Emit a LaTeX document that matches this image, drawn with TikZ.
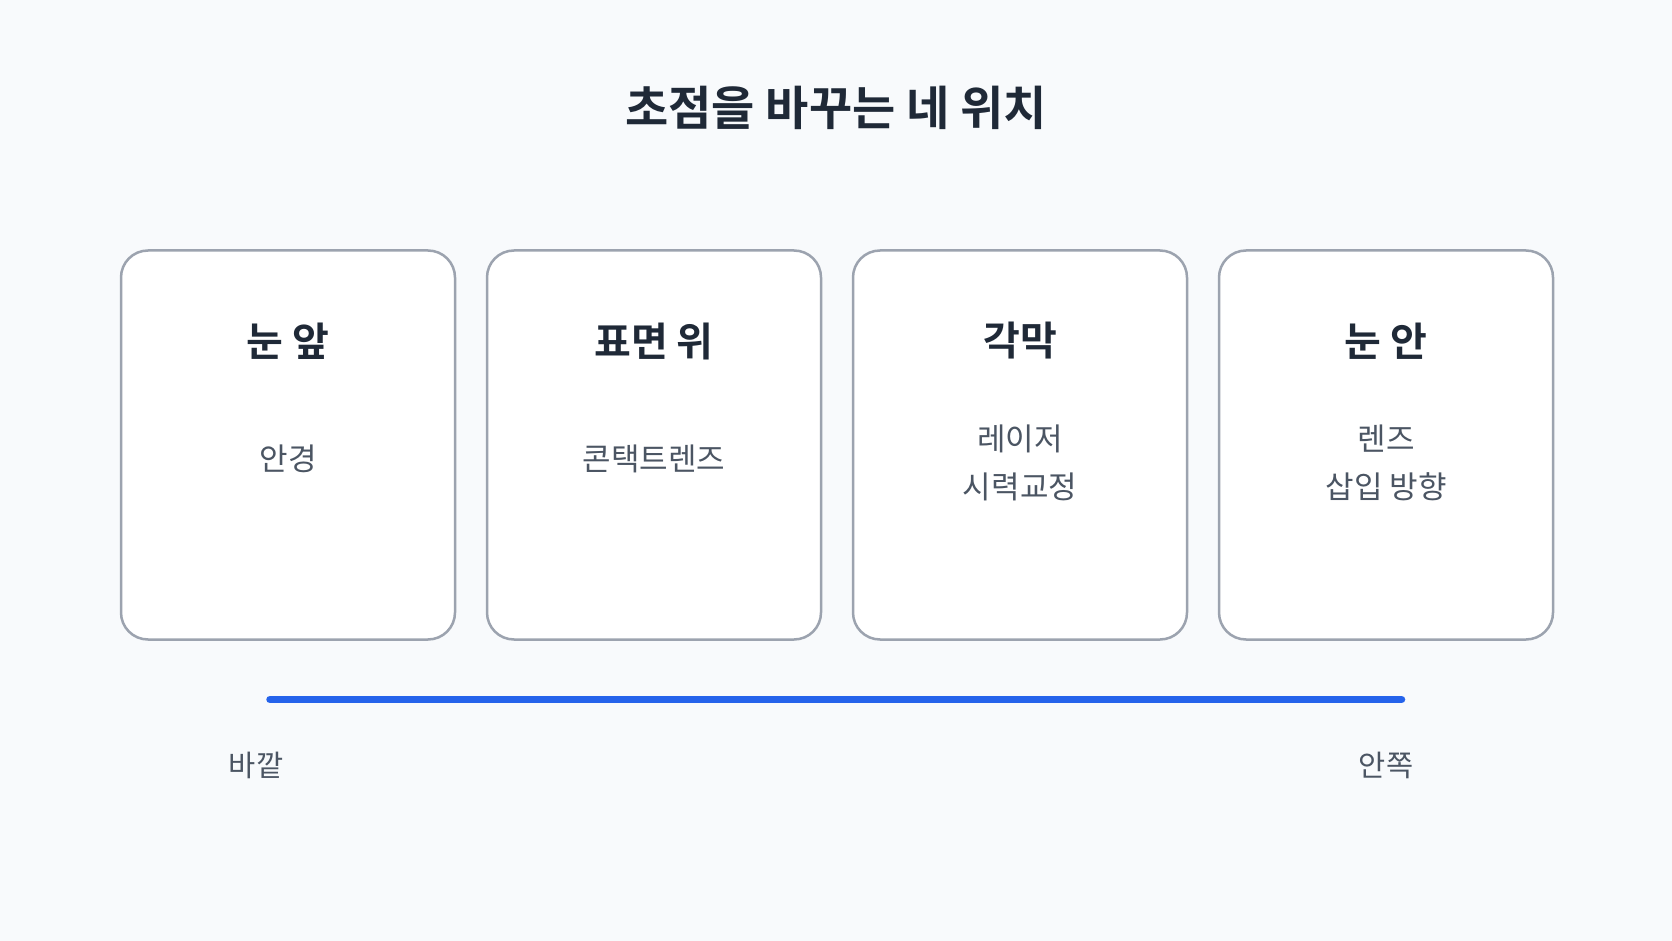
\documentclass[tikz,border=0pt]{standalone}
\usepackage{fontspec}
\setmainfont{Noto Sans CJK KR}[BoldFont={Noto Sans CJK KR Bold}]
\usepackage{tikz}
\usetikzlibrary{positioning}

\definecolor{pagebg}{HTML}{F8FAFC}
\definecolor{cardline}{HTML}{9CA3AF}
\definecolor{inkdark}{HTML}{1F2937}
\definecolor{inkgray}{HTML}{4B5563}
\definecolor{trackblue}{HTML}{2563EB}

\begin{document}
\begin{tikzpicture}[x=1pt, y=-1pt, node distance=366pt]
        \tikzstyle{card} = [rectangle, rounded corners=27pt, minimum width=334pt, minimum height=389pt, draw=cardline, line width=2.5pt, fill=white]
        \tikzstyle{titletext} = [text=inkdark, font=\fontsize{47}{56}\selectfont\bfseries]
        \tikzstyle{heading} = [text=inkdark, font=\fontsize{40}{46}\selectfont\bfseries]
        \tikzstyle{body} = [text=inkgray, align=center, font=\fontsize{31}{48}\selectfont]
        \tikzstyle{endlabel} = [text=inkgray, font=\fontsize{29.5}{34}\selectfont]
        \tikzstyle{track} = [line width=7.5pt, line cap=round, draw=trackblue]

        \fill[pagebg] (0,0) rectangle (1672,941);
        \useasboundingbox (0,0) rectangle (1672,941);

        \node (title) [titletext] at (836,108) {초점을 바꾸는 네 위치};

        \node (front) [card] at (288,445) {};
        \node (surface) [card, right of=front] {};
        \node (cornea) [card, right of=surface] {};
        \node (inside) [card, right of=cornea] {};

        \node (fronthead) [heading] at ([yshift=104pt]front.center) {눈 앞};
        \node (surfacehead) [heading] at ([yshift=104pt]surface.center) {표면 위};
        \node (corneahead) [heading] at ([yshift=104pt]cornea.center) {각막};
        \node (insidehead) [heading] at ([yshift=104pt]inside.center) {눈 안};

        \node (frontbody) [body] at ([yshift=-14pt]front.center) {안경};
        \node (surfacebody) [body] at ([yshift=-14pt]surface.center) {콘택트렌즈};
        \node (corneabody) [body] at ([yshift=-18pt]cornea.center) {레이저\\시력교정};
        \node (insidebody) [body] at ([yshift=-18pt]inside.center) {렌즈\\삽입 방향};

        \coordinate (outer) at (270,699.5);
        \coordinate (inner) at (1401.5,699.5);
        \draw [track] (outer) -- (inner);

        \node (outerlabel) [endlabel] at (256,765) {바깥};
        \node (innerlabel) [endlabel] at (1386,765) {안쪽};
    \end{tikzpicture}
\end{document}
